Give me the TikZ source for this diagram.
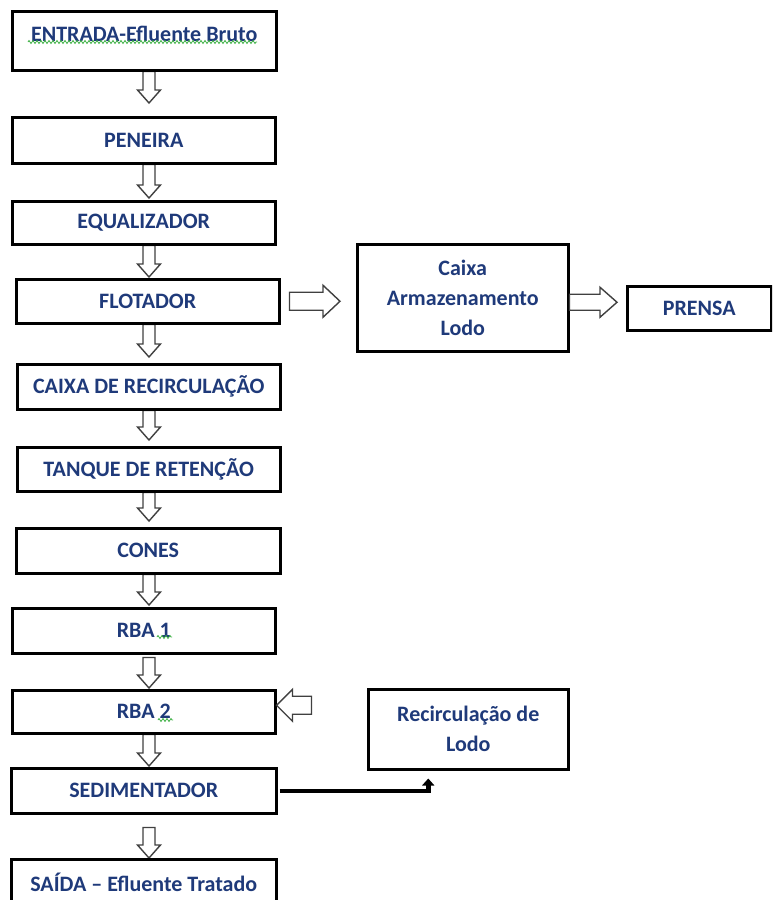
\documentclass[tikz,border=0pt]{standalone}
\usepackage{fontspec}
\setmainfont{Carlito}
\usetikzlibrary{calc,arrows.meta,decorations.pathmorphing,backgrounds}
\definecolor{txt}{HTML}{1F3A7A}
\definecolor{spell}{HTML}{3CB043}
\tikzset{
  box/.style={draw=black, line width=2.5pt, fill=white, inner sep=0pt, anchor=north west,
    text=txt, font=\fontsize{22}{30}\selectfont\bfseries, align=center},
  barrow/.style={draw=black!75, line width=1.4pt, fill=white, line join=miter},
  feed/.style={draw=black, line width=4.5pt, -{Triangle[width=12pt,length=7pt]}},
  squig/.style={draw=spell, line width=0.8pt, decorate,
    decoration={zigzag, amplitude=1.5pt, segment length=4pt}},
}
\newcommand\vblock[2]{\draw[barrow] let \p1=#1, \p2=#2 in
  (\x1-6pt,\y1) -- (\x1-6pt,\y2+13pt) -- (\x1-11.5pt,\y2+13pt) -- (\x1,\y2) --
  (\x1+11.5pt,\y2+13pt) -- (\x1+6pt,\y2+13pt) -- (\x1+6pt,\y1) -- cycle;}
\newcommand\hR[5]{\draw[barrow] let \p1=#1, \p2=#2 in
  (\x1,\y2+#3pt) -- (\x2-#5pt,\y2+#3pt) -- (\x2-#5pt,\y2+#4pt) -- (\x2,\y2) --
  (\x2-#5pt,\y2-#4pt) -- (\x2-#5pt,\y2-#3pt) -- (\x1,\y2-#3pt) -- cycle;}
\newcommand\hL[5]{\draw[barrow] let \p1=#1, \p2=#2 in
  (\x1,\y2+#3pt) -- (\x2+#5pt,\y2+#3pt) -- (\x2+#5pt,\y2+#4pt) -- (\x2,\y2) --
  (\x2+#5pt,\y2-#4pt) -- (\x2+#5pt,\y2-#3pt) -- (\x1,\y2-#3pt) -- cycle;}
\begin{document}
\begin{tikzpicture}[x=1pt,y=-1pt]
\useasboundingbox (0,0) rectangle (772,900);
\clip (0,0) rectangle (772,900);

\node[box, minimum width=264pt, minimum height=59pt] (en) at (11,10) {\raisebox{13pt}{ENTRADA-Efluente Bruto}};
\node[box, minimum width=263pt, minimum height=46pt] (pe) at (11,116) {PENEIRA};
\node[box, minimum width=263pt, minimum height=43pt] (eq) at (11,200) {EQUALIZADOR};
\node[box, minimum width=263pt, minimum height=44pt] (fl) at (15,278) {FLOTADOR};
\node[box, minimum width=263pt, minimum height=45pt] (cr) at (16,363) {CAIXA DE RECIRCULAÇÃO};
\node[box, minimum width=263pt, minimum height=44pt] (tq) at (16,446) {TANQUE DE RETENÇÃO};
\node[box, minimum width=264pt, minimum height=45pt] (co) at (15,527) {CONES};
\node[box, minimum width=263pt, minimum height=45pt] (r1) at (11,607) {RBA 1};
\node[box, minimum width=263pt, minimum height=43pt] (r2) at (11,689) {RBA 2};
\node[box, minimum width=265pt, minimum height=45pt] (sd) at (10,767) {SEDIMENTADOR};
\node[box, minimum width=265pt, minimum height=46pt] (sa) at (10,858) {SAÍDA – Efluente Tratado};
\node[box, minimum width=211pt, minimum height=107pt] (ca) at (356,243) {Caixa\\Armazenamento\\Lodo};
\node[box, minimum width=144pt, minimum height=44pt] (pr) at (626,285) {PRENSA};
\node[box, minimum width=200pt, minimum height=80pt] (rc) at (367,688) {Recirculação de\\Lodo};

\coordinate (ax) at (149,0);

\begin{scope}[on background layer]
\vblock{(ax |- en.south)}{($(ax |- pe.north)+(0,-13)$)}
\vblock{(ax |- pe.south)}{($(ax |- eq.north)+(0,-2)$)}
\vblock{(ax |- eq.south)}{($(ax |- fl.north)+(0,-1)$)}
\vblock{(ax |- fl.south)}{($(ax |- cr.north)+(0,-6)$)}
\vblock{(ax |- cr.south)}{($(ax |- tq.north)+(0,-6)$)}
\vblock{(ax |- tq.south)}{($(ax |- co.north)+(0,-6)$)}
\vblock{(ax |- co.south)}{($(ax |- r1.north)+(0,-2)$)}
\vblock{($(ax |- r1.south)+(0,3)$)}{($(ax |- r2.north)+(0,-1)$)}
\vblock{(ax |- r2.south)}{($(ax |- sd.north)+(0,-1)$)}
\vblock{($(ax |- sd.south)+(0,13)$)}{(ax |- sa.north)}
\end{scope}

\hR{($(fl.east)+(9,0)$)}{($(ca.west |- fl.east)+(-16,0)$)}{9}{16}{17}
\hR{($(ca.east)+(0,4.5)$)}{($(pr.west |- ca.east)+(-9,4.5)$)}{8}{15}{17}
\hL{($(r2.east)+(35,-6.5)$)}{($(r2.east)+(0,-6.5)$)}{9}{16}{16}

\draw[feed] ($(sd.east)+(2,0)$) -| ($(rc.south)+(-40,8)$);

\draw[squig] ($(en.north west)+(17,32)$) -- ++(229,0);
\draw[squig] ($(r1.north west)+(146,30)$) -- ++(15,0);
\draw[squig] ($(r2.north west)+(147,31)$) -- ++(15,0);
\end{tikzpicture}
\end{document}
